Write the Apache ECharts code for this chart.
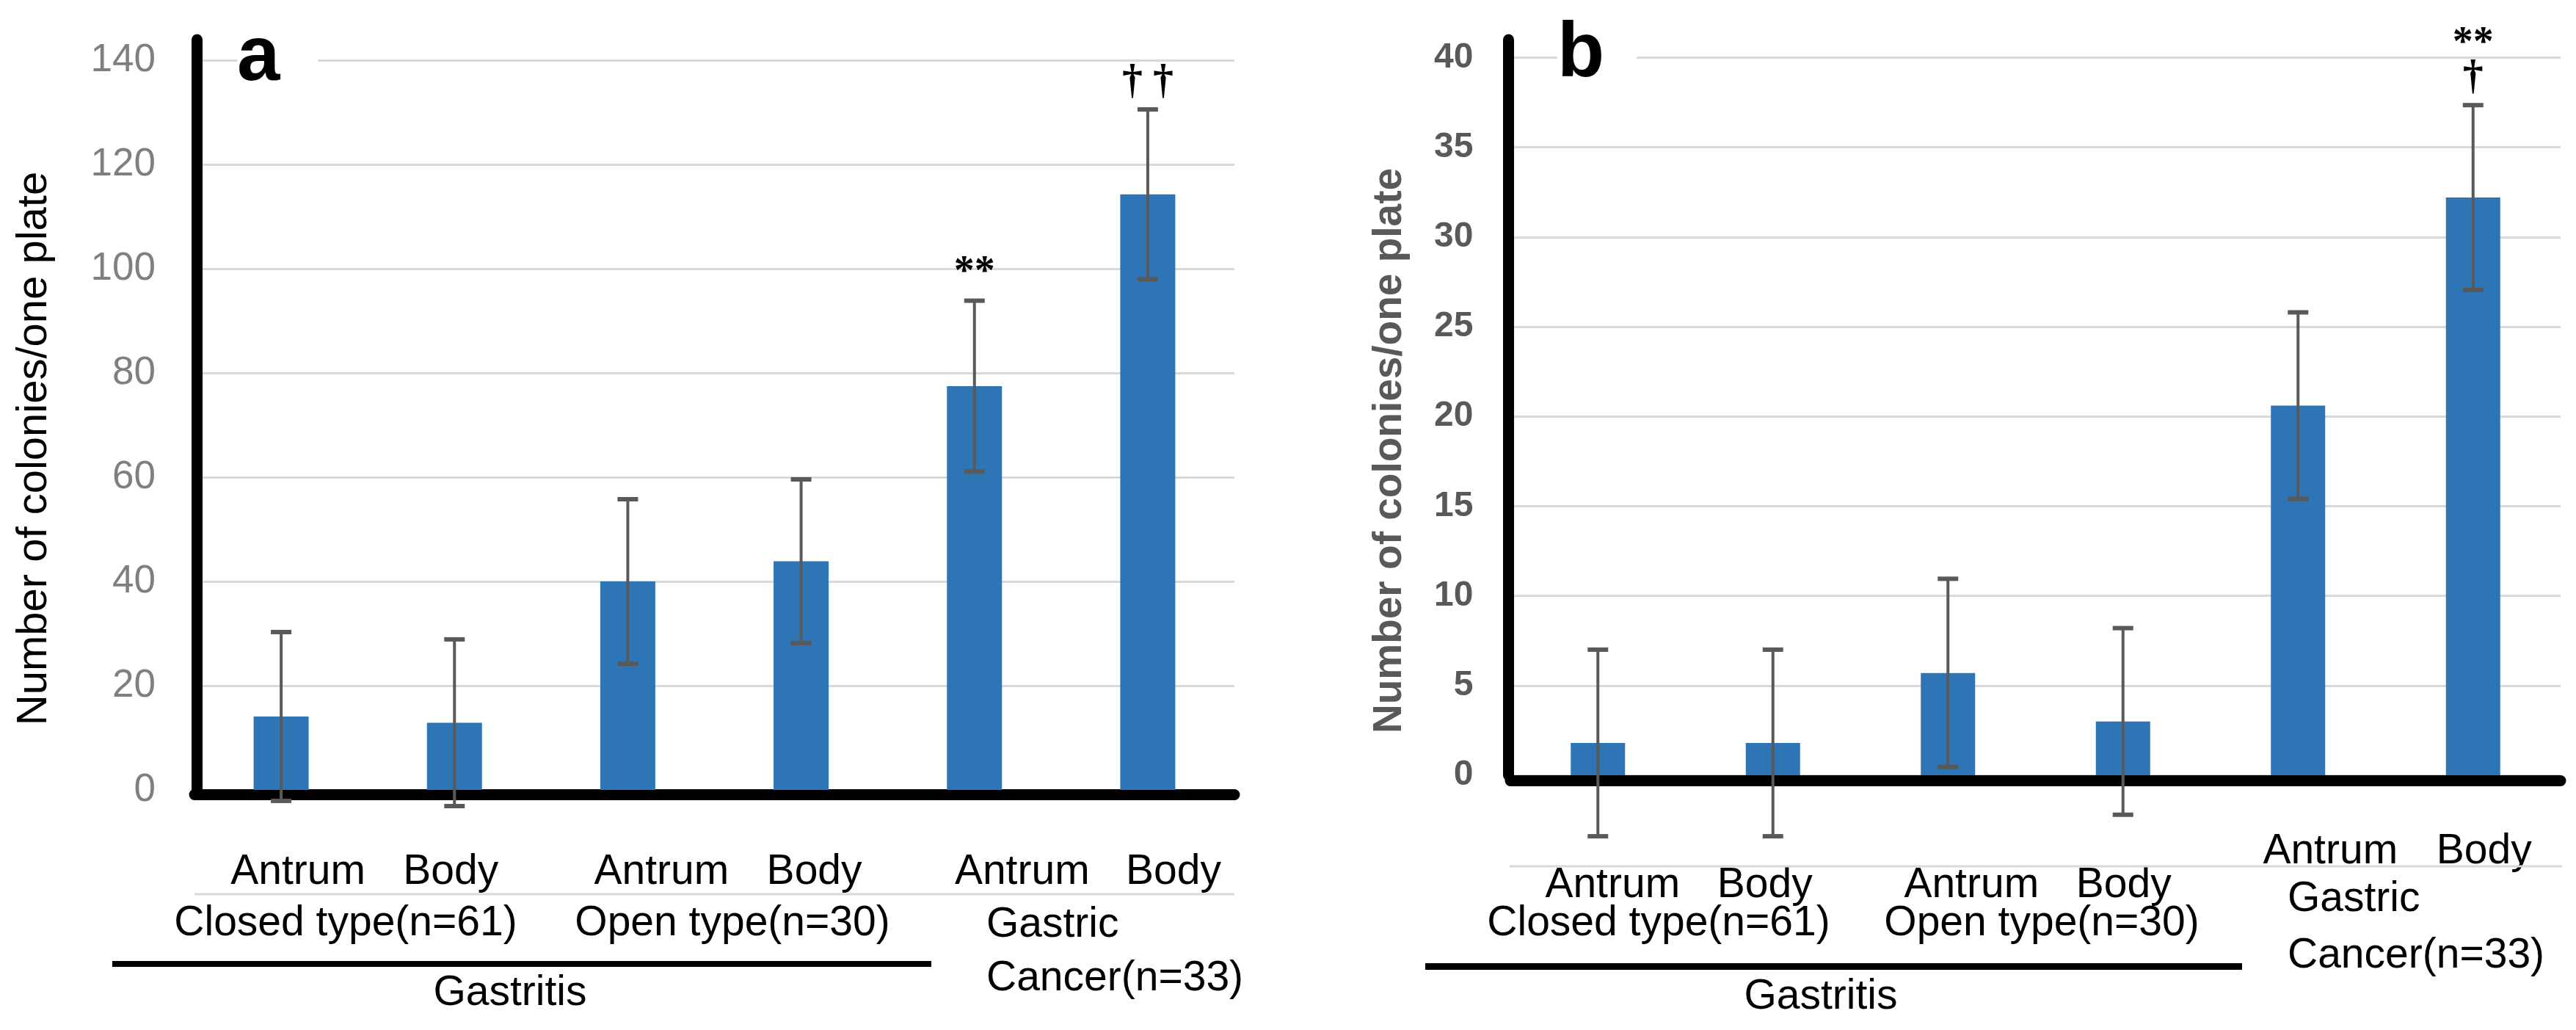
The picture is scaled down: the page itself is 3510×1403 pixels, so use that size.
<!DOCTYPE html>
<html>
<head>
<meta charset="utf-8">
<script src="https://cdn.jsdelivr.net/npm/echarts@6/dist/echarts.min.js"></script>
<style>
  html, body { margin: 0; padding: 0; background: #fff; }
  #chart { width: 3510px; height: 1403px; }
</style>
</head>
<body>
<div id="chart"></div>
<script>
// categories and labels
var sites = ['Antrum', 'Body', 'Antrum', 'Body', 'Antrum', 'Body'];
var groupClosed = 'Closed type(n=61)';
var groupOpen = 'Open type(n=30)';
var groupCancer1 = 'Gastric';
var groupCancer2 = 'Cancer(n=33)';
var parentGroup = 'Gastritis';
var yTitle = 'Number of colonies/one plate';

// panel a : colonies (mean, SD)
var meanA = [14.1, 12.9, 40.0, 43.9, 77.5, 114.3];
var sdA = [16.2, 16.0, 15.8, 15.7, 16.4, 16.3];
var marksA = ['', '', '', '', '**', '\u2020 \u2020'];

// panel b
var meanB = [1.8, 1.8, 5.7, 3.0, 20.6, 32.2];
var sdB = [5.2, 5.2, 5.25, 5.2, 5.2, 5.15];
var marksB = ['', '', '', '', '', '**\n\u2020'];

var FONT = '"Liberation Sans", Arial, sans-serif';
var BLUE = '#2e75b6';
var ERR = '#595959';

var $chart = document.getElementById('chart');
var myChart = echarts.init($chart, null, { renderer: 'canvas' });

// per-label nudges of the site names (px), like the original table layout
var shiftA = [23, -5, 46, 18, 65, 35];
var padA = [0, 0, 0, 0, 0, 0];
var shiftB = [20, -11, 32, 1, 44, 15];
var padB = [46, 46, 46, 46, 0, 0];

function richFor(shift, pad) {
  var r = {};
  shift.forEach(function(dx, i) {
    r['p' + i] = {
      fontSize: 57,
      fontFamily: FONT,
      color: '#000',
      padding: [pad[i], dx < 0 ? -2 * dx : 0, 0, dx > 0 ? 2 * dx : 0]
    };
  });
  return r;
}

function errRender(marks) {
  return function(params, api) {
    var i = api.value(0);
    var m = api.value(1);
    var s = api.value(2);
    var hi = api.coord([i, m + s]);
    var lo = api.coord([i, m - s]);
    var half = 14;
    var kids = [
      { type: 'line', shape: { x1: hi[0], y1: hi[1], x2: lo[0], y2: lo[1] }, style: { stroke: ERR, lineWidth: 4 } },
      { type: 'line', shape: { x1: hi[0] - half, y1: hi[1], x2: hi[0] + half, y2: hi[1] }, style: { stroke: ERR, lineWidth: 6 } },
      { type: 'line', shape: { x1: lo[0] - half, y1: lo[1], x2: lo[0] + half, y2: lo[1] }, style: { stroke: ERR, lineWidth: 6 } }
    ];
    if (marks[i]) {
      kids.push({
        type: 'text',
        x: hi[0],
        y: hi[1] - 14,
        style: {
          text: marks[i],
          font: 'bold 56px "Liberation Serif", serif',
          fill: '#000',
          align: 'center', textAlign: 'center',
          verticalAlign: 'bottom', textVerticalAlign: 'bottom',
          lineHeight: 46
        }
      });
    }
    return { type: 'group', children: kids };
  };
}

function errData(mean, sd) {
  return mean.map(function(v, i) { return [i, v, sd[i]]; });
}

function txt(text, x, y, opts) {
  opts = opts || {};
  return {
    type: 'text',
    x: x,
    y: y,
    z: 10,
    rotation: opts.rotation || 0,
    style: {
      text: text,
      font: opts.font || ('57px ' + FONT),
      fill: opts.fill || '#000',
      align: opts.align || 'center', textAlign: opts.align || 'center',
      verticalAlign: 'middle', textVerticalAlign: 'middle',
      backgroundColor: opts.bg,
      padding: opts.padding
    }
  };
}

function hline(x1, x2, y, w, c) {
  return {
    type: 'line',
    z: 5,
    shape: { x1: x1, y1: y, x2: x2, y2: y },
    style: { stroke: c, lineWidth: w }
  };
}

var option = {
  animation: false,
  backgroundColor: '#fff',
  grid: [
    { left: 265, top: 54, width: 1417, height: 1022 },
    { left: 2058, top: 54, width: 1431, height: 1002 }
  ],
  xAxis: [{
    gridIndex: 0,
    type: 'category',
    data: sites,
    offset: 6.5,
    axisLine: { onZero: false, lineStyle: { color: '#000', width: 15 } },
    axisTick: { show: false },
    axisLabel: {
      interval: 0,
      margin: 77,
      formatter: function(v, i) { return '{p' + i + '|' + v + '}'; },
      rich: richFor(shiftA, padA)
    }
  }, {
    gridIndex: 1,
    type: 'category',
    data: sites,
    offset: 7.5,
    axisLine: { onZero: false, lineStyle: { color: '#000', width: 15 } },
    axisTick: { show: false },
    axisLabel: {
      interval: 0,
      margin: 68,
      formatter: function(v, i) { return '{p' + i + '|' + v + '}'; },
      rich: richFor(shiftB, padB)
    }
  }],
  yAxis: [{
    gridIndex: 0,
    type: 'value',
    min: 0,
    max: 144,
    interval: 20,
    offset: -3,
    axisLine: { show: true, onZero: false, lineStyle: { color: '#000', width: 15 } },
    axisTick: { show: false },
    axisLabel: { showMaxLabel: false, margin: 56, fontSize: 53, fontFamily: FONT, color: '#7f7f7f' },
    splitLine: { show: true, showMaxLine: false, lineStyle: { color: '#d9d9d9', width: 3 } }
  }, {
    gridIndex: 1,
    type: 'value',
    min: 0,
    max: 41,
    interval: 5,
    offset: 2.5,
    axisLine: { show: true, onZero: false, lineStyle: { color: '#000', width: 15 } },
    axisTick: { show: false },
    axisLabel: { showMaxLabel: false, margin: 48, fontSize: 48, fontWeight: 'bold', fontFamily: FONT, color: '#595959' },
    splitLine: { show: true, showMaxLine: false, lineStyle: { color: '#d9d9d9', width: 3 } }
  }],
  series: [{
    name: 'a',
    type: 'bar',
    xAxisIndex: 0,
    yAxisIndex: 0,
    barWidth: 75,
    itemStyle: { color: BLUE },
    data: meanA
  }, {
    name: 'a-sd',
    type: 'custom',
    xAxisIndex: 0,
    yAxisIndex: 0,
    z: 3,
    encode: { x: 0, y: 1 },
    renderItem: errRender(marksA),
    data: errData(meanA, sdA)
  }, {
    name: 'b',
    type: 'bar',
    xAxisIndex: 1,
    yAxisIndex: 1,
    barWidth: 74,
    itemStyle: { color: BLUE },
    data: meanB
  }, {
    name: 'b-sd',
    type: 'custom',
    xAxisIndex: 1,
    yAxisIndex: 1,
    z: 3,
    encode: { x: 0, y: 1 },
    renderItem: errRender(marksB),
    data: errData(meanB, sdB)
  }],
  graphic: [
    // panel letters (white box hides the top gridline behind them)
    txt('a', 323, 80, { font: 'bold 105px ' + FONT, align: 'left', bg: '#fff', padding: [0, 52, 0, 0] }),
    txt('b', 2122, 75, { font: 'bold 105px ' + FONT, align: 'left', bg: '#fff', padding: [0, 44, 0, 0] }),
    // axis titles
    txt(yTitle, 47, 611, { rotation: Math.PI / 2, font: '58px ' + FONT }),
    txt(yTitle, 1894, 614, { rotation: Math.PI / 2, font: 'bold 55px ' + FONT, fill: '#595959' }),
    // panel a group rows
    hline(265, 1682, 1218, 3, '#d9d9d9'),
    txt(groupClosed, 471, 1258),
    txt(groupOpen, 998, 1258),
    txt(groupCancer1, 1344, 1260, { align: 'left' }),
    txt(groupCancer2, 1344, 1333, { align: 'left' }),
    hline(153, 1269, 1313, 8, '#000'),
    txt(parentGroup, 695, 1353),
    // panel b group rows
    hline(2057, 3491, 1180, 3, '#d9d9d9'),
    txt(groupClosed, 2260, 1258),
    txt(groupOpen, 2782, 1258),
    txt(groupCancer1, 3117, 1225, { align: 'left' }),
    txt(groupCancer2, 3117, 1302, { align: 'left' }),
    hline(1942, 3055, 1316.5, 9, '#000'),
    txt(parentGroup, 2481, 1358)
  ]
};

myChart.setOption(option);
</script>
</body>
</html>
